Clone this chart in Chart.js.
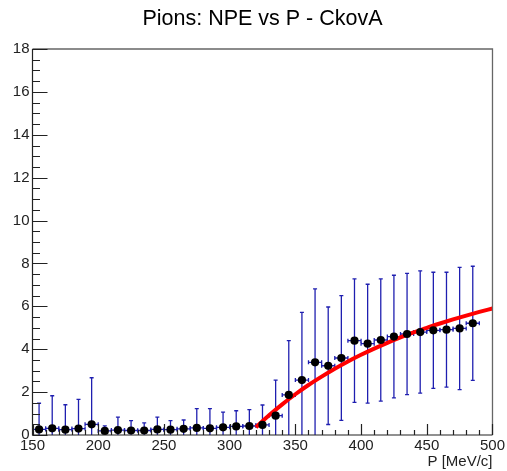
<!DOCTYPE html>
<html>
<head>
<meta charset="utf-8">
<script src="https://cdn.jsdelivr.net/npm/chart.js@4.4.1/dist/chart.umd.min.js"></script>
<style>
  html, body { margin: 0; padding: 0; background: #fff; }
  canvas { display: block; }
</style>
</head>
<body>
<canvas id="npeChart" width="507" height="471"></canvas>
<script>
// momentum bin centres (MeV/c), bin width 10
const pBins = [155, 165, 175, 185, 195, 205, 215, 225, 235, 245, 255, 265, 275, 285, 295, 305, 315,
               325, 335, 345, 355, 365, 375, 385, 395, 405, 415, 425, 435, 445, 455, 465, 475, 485];
const pHalfWidth = 5;

// mean number of photoelectrons per bin and its error
const npe = [0.26, 0.31, 0.25, 0.30, 0.50, 0.19, 0.23, 0.21, 0.21, 0.26, 0.25, 0.29, 0.33, 0.31, 0.36, 0.40, 0.42,
             0.47, 0.90, 1.87, 2.56, 3.39, 3.23, 3.59, 4.40, 4.26, 4.43, 4.59, 4.71, 4.80, 4.88, 4.91, 4.97, 5.21];
const npeErr = [1.22, 1.52, 1.16, 1.36, 2.17, 0.24, 0.60, 0.46, 0.36, 0.57, 0.42, 0.41, 0.90, 0.92, 0.71, 0.73, 0.76,
                0.93, 1.66, 2.53, 3.16, 3.42, 2.74, 2.91, 2.88, 2.77, 2.85, 2.86, 2.83, 2.85, 2.71, 2.68, 2.85, 2.66];

// threshold fit above 320 MeV/c
const pFit = [320, 330, 340, 350, 360, 370, 380, 390, 400, 410, 420, 430, 440, 450, 460, 470, 480, 490, 500];
const npeFit = [0.36, 0.92, 1.43, 1.90, 2.33, 2.72, 3.09, 3.43, 3.74, 4.03, 4.30, 4.55, 4.78, 5.00, 5.20, 5.39, 5.57, 5.74, 5.90];

const xTicks = { min: 150, max: 500, major: 50, minor: 10 };
const yTicks = { min: 0, max: 18, major: 2, minor: 0.5 };

const FONT = "'Liberation Sans', Arial, Helvetica, sans-serif";
const titleText = 'Pions: NPE vs P - CkovA';

// error bars: vertical = npeErr, horizontal = bin half width
const errorBars = {
  id: 'errorBars',
  beforeDatasetsDraw(chart) {
    const { ctx, chartArea, scales: { x, y } } = chart;
    ctx.save();
    ctx.beginPath();
    ctx.rect(chartArea.left, chartArea.top, chartArea.width, chartArea.height);
    ctx.clip();
    ctx.strokeStyle = '#1f1fb0';
    ctx.lineWidth = 1.3;
    const cap = 2;
    pBins.forEach((p, i) => {
      const px = x.getPixelForValue(p);
      const py = y.getPixelForValue(npe[i]);
      const top = y.getPixelForValue(npe[i] + npeErr[i]);
      const bot = y.getPixelForValue(npe[i] - npeErr[i]);
      const left = x.getPixelForValue(p - pHalfWidth);
      const right = x.getPixelForValue(p + pHalfWidth);
      ctx.beginPath();
      ctx.moveTo(px, top); ctx.lineTo(px, bot);
      ctx.moveTo(px - cap, top); ctx.lineTo(px + cap, top);
      ctx.moveTo(px - cap, bot); ctx.lineTo(px + cap, bot);
      ctx.moveTo(left, py); ctx.lineTo(right, py);
      ctx.moveTo(left, py - cap); ctx.lineTo(left, py + cap);
      ctx.moveTo(right, py - cap); ctx.lineTo(right, py + cap);
      ctx.stroke();
    });
    ctx.restore();
  }
};

// ROOT-like frame with inward tick marks, plus the title over the frame
const rootFrame = {
  id: 'rootFrame',
  afterDraw(chart) {
    const { ctx, chartArea: a, scales: { x, y } } = chart;
    ctx.save();
    ctx.lineWidth = 1.3;
    ctx.strokeStyle = '#666';
    ctx.beginPath();
    ctx.moveTo(a.left, a.top); ctx.lineTo(a.right, a.top); ctx.lineTo(a.right, a.bottom);
    ctx.stroke();

    ctx.strokeStyle = '#222';
    ctx.lineWidth = 1.2;
    ctx.beginPath();
    ctx.moveTo(a.left, a.top); ctx.lineTo(a.left, a.bottom); ctx.lineTo(a.right, a.bottom);
    for (let v = xTicks.min; v <= xTicks.max + 1e-9; v += xTicks.minor) {
      const px = Math.round(x.getPixelForValue(v)) + 0.5;
      const len = (Math.abs(v % xTicks.major) < 1e-6) ? 11 : 5;
      ctx.moveTo(px, a.bottom); ctx.lineTo(px, a.bottom - len);
    }
    for (let v = yTicks.min; v <= yTicks.max + 1e-9; v += yTicks.minor) {
      const py = Math.round(y.getPixelForValue(v)) + 0.5;
      const len = (Math.abs(v % yTicks.major) < 1e-6) ? 15 : 7.5;
      ctx.moveTo(a.left, py); ctx.lineTo(a.left + len, py);
    }
    ctx.stroke();

    ctx.fillStyle = '#000';
    ctx.font = '21.5px ' + FONT;
    ctx.textAlign = 'center';
    ctx.textBaseline = 'alphabetic';
    ctx.fillText(titleText, (a.left + a.right) / 2, 25);
    ctx.restore();
  }
};

const ctx = document.getElementById('npeChart').getContext('2d');
const npeChart = new Chart(ctx, {
  type: 'scatter',
  data: {
    datasets: [
      {
        label: 'NPE',
        data: pBins.map((p, i) => ({ x: p, y: npe[i] })),
        backgroundColor: '#000',
        borderColor: '#000',
        pointRadius: 4.1,
        pointBorderWidth: 0,
        showLine: false,
        order: 0
      },
      {
        label: 'fit',
        data: pFit.map((p, i) => ({ x: p, y: npeFit[i] })),
        borderColor: '#ff0000',
        borderWidth: 4,
        pointRadius: 0,
        showLine: true,
        tension: 0.4,
        cubicInterpolationMode: 'monotone',
        order: 1
      }
    ]
  },
  options: {
    responsive: false,
    animation: false,
    layout: { padding: { top: 49, right: 14.5, left: 0, bottom: 0 } },
    plugins: {
      legend: { display: false },
      tooltip: { enabled: false }
    },
    scales: {
      x: {
        type: 'linear',
        min: xTicks.min,
        max: xTicks.max,
        grid: { display: false, drawTicks: false },
        border: { display: false },
        ticks: { stepSize: xTicks.major, color: '#222', font: { family: FONT, size: 15 }, padding: 2, maxRotation: 0 },
        title: { display: true, text: 'P [MeV/c]', align: 'end', color: '#222', font: { family: FONT, size: 15 }, padding: 0 },
        afterFit(scale) { scale.height = 36; }
      },
      y: {
        type: 'linear',
        min: yTicks.min,
        max: yTicks.max,
        grid: { display: false, drawTicks: false },
        border: { display: false },
        ticks: { stepSize: yTicks.major, color: '#222', font: { family: FONT, size: 15 }, padding: 3 },
        afterFit(scale) { scale.width = 32.5; }
      }
    }
  },
  plugins: [errorBars, rootFrame]
});
</script>
</body>
</html>
